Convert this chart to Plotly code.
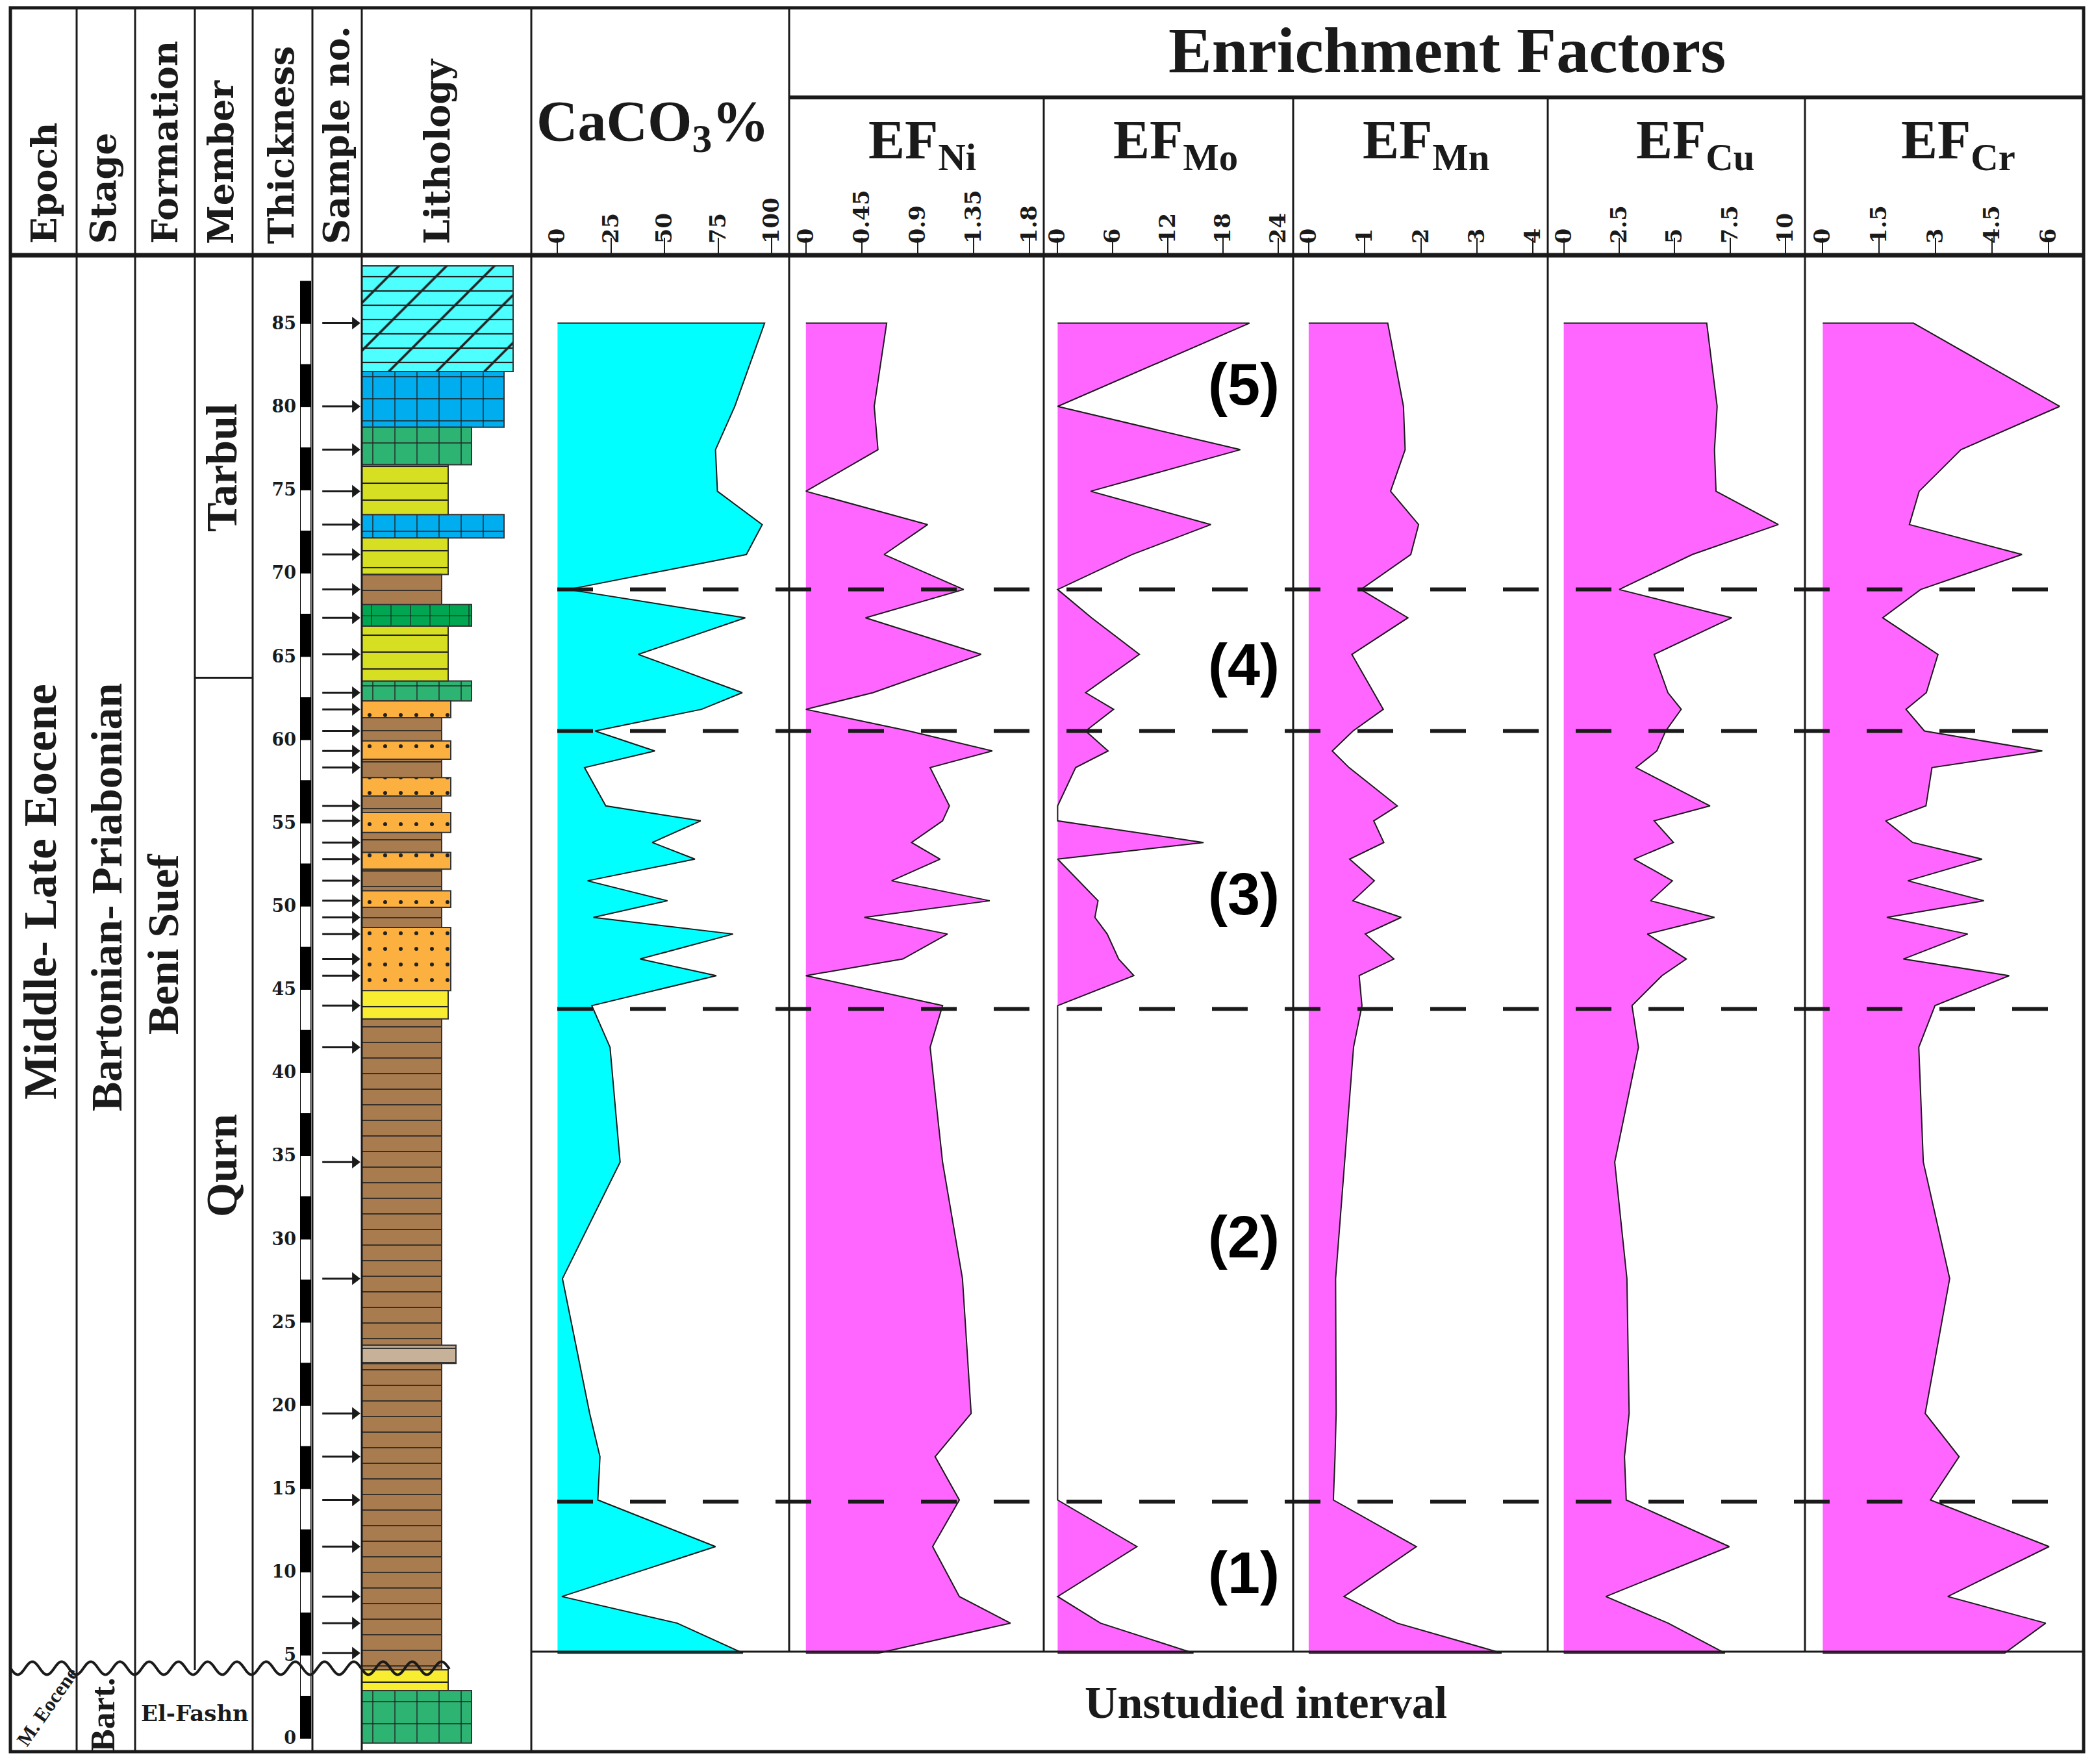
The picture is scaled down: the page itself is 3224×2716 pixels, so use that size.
import numpy as np
import plotly.graph_objects as go

# figure size (page has an 8px body margin)
W, H = 3208, 2700


def px(x):
    # reference pixel -> paper x
    return (x - 8) / W


def py(y):
    # reference pixel -> paper y
    return 1 - (y - 8) / H


# ---------------- data ----------------
# sample depths (m above base of section)
depth = [85, 80, 77.4, 74.9, 72.9, 71.1, 69, 67.3, 65.1, 62.8, 61.8, 60.5, 59.3, 58.3,
         56, 55.1, 53.8, 52.8, 51.5, 50.3, 49.3, 48.3, 46.8, 45.8, 44, 41.5, 34.6,
         27.6, 19.5, 16.9, 14.3, 11.5, 8.5, 6.9, 5.1]

caco3 = [96.6, 82.7, 73.7, 74.6, 95.5, 88.1, 5, 87.6, 37.7, 86.2, 67.2, 17.5, 45.4, 12.6,
         22.5, 66.8, 44.2, 64.1, 14.0, 51.3, 16.7, 81.9, 38.5, 74.1, 16.0, 24.5, 29.2,
         2.3, 15, 19.8, 18.8, 73.7, 2.0, 55.8, 86.5]

ef_ni = [0.65, 0.55, 0.58, 0.0, 0.98, 0.63, 1.27, 0.48, 1.41, 0.54, 0.0, 0.83, 1.50, 1.00,
         1.155, 1.10, 0.85, 1.08, 0.69, 1.48, 0.47, 1.14, 0.78, 0.0, 1.10, 1.00, 1.10,
         1.26, 1.33, 1.04, 1.235, 1.02, 1.235, 1.646, 0.584]

ef_mo = [20.9, 0, 19.9, 3.6, 16.7, 8.1, 0, 3.7, 8.9, 3.05, 6.1, 3.05, 5.5, 1.96,
         0, 0, 15.9, 0, 2.3, 4.4, 4.06, 5.4, 6.65, 8.3, 0, 0, 0,
         0, 0, 0, 0, 8.64, 0, 4.67, 14.8]

ef_mn = [1.41, 1.69, 1.72, 1.46, 1.96, 1.82, 0.93, 1.77, 0.77, 1.16, 1.33, 0.79, 0.42, 0.72,
         1.58, 1.16, 1.34, 0.73, 1.17, 0.79, 1.65, 1.01, 1.52, 0.90, 0.95, 0.80, 0.64,
         0.48, 0.49, 0.47, 0.44, 1.92, 0.63, 1.58, 3.44]

ef_cu = [6.45, 6.92, 6.80, 6.87, 9.68, 5.8, 2.5, 7.58, 4.08, 4.7, 5.3, 4.6, 4.2, 3.26,
         6.6, 4.08, 4.95, 3.17, 4.9, 3.92, 6.8, 3.77, 5.53, 4.43, 3.08, 3.37, 2.30,
         2.85, 2.95, 2.74, 2.82, 7.47, 1.90, 4.71, 7.27]

ef_cr = [2.41, 6.29, 3.67, 2.56, 2.30, 5.29, 2.60, 1.59, 3.06, 2.75, 2.21, 2.70, 5.83, 2.90,
         2.74, 1.67, 2.39, 4.23, 2.26, 4.28, 1.70, 3.85, 2.14, 4.95, 2.98, 2.55, 2.67,
         3.37, 2.72, 3.62, 2.86, 6.01, 3.32, 5.92, 4.83]

# lithology beds
litho_top = [88.45, 82.1, 78.75, 76.5, 73.5, 72.1, 69.9, 68.1, 66.8, 63.5, 62.3, 61.3, 59.9,
             58.8, 57.7, 56.6, 55.6, 54.4, 53.2, 52.2, 50.9, 49.9, 48.7, 44.9, 43.2, 23.6,
             22.5, 4.1, 2.85]
litho_base = [82.1, 78.75, 76.5, 73.5, 72.1, 69.9, 68.1, 66.8, 63.5, 62.3, 61.3, 59.9, 58.8,
              57.7, 56.6, 55.6, 54.4, 53.2, 52.2, 50.9, 49.9, 48.7, 44.9, 43.2, 23.6, 22.5,
              4.1, 2.85, -0.3]
litho_type = ['dolostone', 'limestone', 'marly_lst', 'marl', 'limestone', 'marl', 'shale',
              'dolomitic_marl', 'marl', 'marly_lst', 'sandstone', 'shale', 'sandstone', 'shale',
              'sandstone', 'shale', 'sandstone', 'shale', 'sandstone', 'shale', 'sandstone',
              'shale', 'sandstone', 'calc_sst', 'shale', 'siltstone', 'shale', 'calc_sst',
              'marly_lst']

zone_bounds = [69.0, 60.5, 43.8, 14.2]
zone_names = ['(1)', '(2)', '(3)', '(4)', '(5)']
zone_label_depth = [9.9, 30.1, 50.7, 64.45, 81.3]
member_boundary = 63.7
unconformity = 4.2

depth_ticks = list(range(0, 90, 5))

# ---------------- styles ----------------
litho_style = {
    'dolostone': dict(color='#4DFFFF', w=233, shape='/', size=52, sol=0.07, over='-'),
    'limestone': dict(color='#00AEEF', w=219, shape='+', size=34, sol=0.08),
    'marly_lst': dict(color='#2DB473', w=169, shape='+', size=34, sol=0.08),
    'dolomitic_marl': dict(color='#00A651', w=169, shape='+', size=30, sol=0.08),
    'marl': dict(color='#D7DF23', w=133, shape='-', size=26, sol=0.08),
    'shale': dict(color='#A97C50', w=123, shape='-', size=24, sol=0.07),
    'sandstone': dict(color='#FBB040', w=137, shape='.', size=24, sol=0.05),
    'calc_sst': dict(color='#F9ED32', w=133, shape='-', size=26, sol=0.08),
    'siltstone': dict(color='#C7B299', w=145, shape='-', size=22, sol=0.08),
}

INK = '#1a1a1a'
CYAN = '#00FFFF'
PINK = '#FF66FF'

fig = go.Figure()

# thickness scale bar (2.5 m segments)
seg_base = np.arange(0, 87.5, 2.5)
fig.add_trace(go.Bar(
    orientation='h', y=seg_base + 1.25, x=[1] * len(seg_base), base=0, width=2.5,
    marker=dict(color=['black' if i % 2 == 0 else 'white' for i in range(len(seg_base))],
                line=dict(color='black', width=2)),
    xaxis='x', yaxis='y', showlegend=False, hoverinfo='skip'))

# sample arrows
sx, sy = [], []
for d in depth:
    sx += [0.2, 0.86, None]
    sy += [d, d, None]
fig.add_trace(go.Scatter(x=sx, y=sy, mode='lines', line=dict(color=INK, width=3),
                         xaxis='x2', yaxis='y', showlegend=False, hoverinfo='skip'))
fig.add_trace(go.Scatter(x=[0.86] * len(depth), y=depth, mode='markers',
                         marker=dict(symbol='triangle-right', size=17, color=INK),
                         xaxis='x2', yaxis='y', showlegend=False, hoverinfo='skip'))

# lithology column
for lt, st in litho_style.items():
    idx = [i for i, t in enumerate(litho_type) if t == lt]
    if not idx:
        continue
    mids = [(litho_top[i] + litho_base[i]) / 2 for i in idx]
    thick = [litho_top[i] - litho_base[i] for i in idx]
    fig.add_trace(go.Bar(
        orientation='h', y=mids, x=[st['w']] * len(idx), base=0, width=thick,
        marker=dict(color=st['color'], line=dict(color='#333', width=2),
                    pattern=dict(shape=st['shape'], fgcolor='#222', bgcolor=st['color'],
                                 size=st['size'], solidity=st['sol'], fillmode='replace')),
        xaxis='x3', yaxis='y', showlegend=False, hoverinfo='skip'))
    if 'over' in st:
        # second pattern layer (bedding lines)
        fig.add_trace(go.Bar(
            orientation='h', y=mids, x=[st['w']] * len(idx), base=0, width=thick,
            marker=dict(color='rgba(0,0,0,0)', line=dict(color='#333', width=2),
                        pattern=dict(shape=st['over'], fgcolor='#222',
                                     bgcolor='rgba(0,0,0,0)', size=22, solidity=0.1,
                                     fillmode='replace')),
            xaxis='x3', yaxis='y', showlegend=False, hoverinfo='skip'))

# geochemical panels
panels = [
    ('x4', caco3, CYAN), ('x5', ef_ni, PINK), ('x6', ef_mo, PINK),
    ('x7', ef_mn, PINK), ('x8', ef_cu, PINK), ('x9', ef_cr, PINK),
]
for ax, vals, col in panels:
    fig.add_trace(go.Scatter(
        x=[0] + list(vals) + [0], y=[depth[0]] + depth + [depth[-1]],
        mode='lines', fill='toself', fillcolor=col,
        line=dict(color=INK, width=2), xaxis=ax, yaxis='y',
        showlegend=False, hoverinfo='skip'))

# ---------------- axes ----------------
tick_font = dict(family='DejaVu Serif', size=34, color=INK, weight='bold')


def data_axis(left, right, zero_px, unit_px, ticks, labels):
    lo = (left - zero_px) / unit_px
    hi = (right - zero_px) / unit_px
    return dict(domain=[px(left), px(right)], range=[lo, hi], anchor='y', side='top',
                tickmode='array', tickvals=ticks, ticktext=labels, ticks='outside',
                ticklen=26, tickwidth=2, tickcolor=INK, tickangle=-90, tickfont=tick_font,
                ticklabelstandoff=-16,
                showgrid=False, zeroline=False, showline=False, fixedrange=True)


hidden = dict(visible=False, showgrid=False, zeroline=False, anchor='y', fixedrange=True)

fig.update_layout(
    width=W, height=H, autosize=False,
    margin=dict(l=0, r=0, t=0, b=0),
    paper_bgcolor='white', plot_bgcolor='white',
    barmode='overlay', hovermode=False, showlegend=False,
    xaxis=dict(hidden, domain=[px(462), px(479)], range=[0, 1]),
    xaxis2=dict(hidden, domain=[px(481), px(557)], range=[0, 1]),
    xaxis3=dict(hidden, domain=[px(557), px(818)], range=[0, 261]),
    xaxis4=data_axis(818, 1215, 858.4, 3.30, [0, 25, 50, 75, 100],
                     ['0', '25', '50', '75', '100']),
    xaxis5=data_axis(1215, 1607, 1240.8, 191.3, [0, 0.45, 0.9, 1.35, 1.8],
                     ['0', '0.45', '0.9', '1.35', '1.8']),
    xaxis6=data_axis(1607, 1991, 1628.4, 14.13, [0, 6, 12, 18, 24],
                     ['0', '6', '12', '18', '24']),
    xaxis7=data_axis(1991, 2383, 2014.9, 86.35, [0, 1, 2, 3, 4],
                     ['0', '1', '2', '3', '4']),
    xaxis8=data_axis(2383, 2779, 2407.6, 34.13, [0, 2.5, 5, 7.5, 10],
                     ['0', '2.5', '5', '7.5', '10']),
    xaxis9=data_axis(2779, 3208, 2806.4, 57.98, [0, 1.5, 3, 4.5, 6],
                     ['0', '1.5', '3', '4.5', '6']),
    yaxis=dict(domain=[py(2697), py(393)], range=[-0.82, 89.08], anchor='free',
               position=px(458), tickmode='array', tickvals=depth_ticks, ticks='',
               showgrid=False, zeroline=False, showline=False, fixedrange=True,
               tickfont=dict(family='DejaVu Serif', size=27, color=INK, weight='bold'),
               ticklabelstandoff=2),
)

# ---------------- frame and rules ----------------
shapes = []


def vline(x, y0, y1, w=3):
    shapes.append(dict(type='line', xref='paper', yref='paper', x0=px(x), x1=px(x),
                       y0=py(y0), y1=py(y1), line=dict(color=INK, width=w)))


def hline(y, x0, x1, w=3):
    shapes.append(dict(type='line', xref='paper', yref='paper', x0=px(x0), x1=px(x1),
                       y0=py(y), y1=py(y), line=dict(color=INK, width=w)))


for x in [118, 208, 389, 481, 557, 818]:
    vline(x, 12, 2697)
vline(300, 12, 2571)
vline(1215, 12, 2543)
for x in [1607, 1991, 2383, 2779]:
    vline(x, 150, 2543)
hline(393, 16, 3208, 7)
hline(150, 1215, 3208, 6)
hline(2543, 818, 3208, 3)
shapes.append(dict(type='rect', xref='paper', yref='paper', x0=px(16), x1=px(3208),
                   y0=py(2697), y1=py(12), line=dict(color=INK, width=5)))

# member boundary (Tarbul / Qurn)
shapes.append(dict(type='line', xref='paper', yref='y', x0=px(300), x1=px(389),
                   y0=member_boundary, y1=member_boundary, line=dict(color=INK, width=3)))

# zone boundaries
for z in zone_bounds:
    shapes.append(dict(type='line', xref='paper', yref='y', x0=px(858), x1=px(3208),
                       y0=z, y1=z, line=dict(color=INK, width=6, dash='55px,57px')))

# wavy unconformity
wx = np.linspace(16, 692, 400)
uy = 2676.1 - unconformity * 25.63
wy = uy + 10 * np.sin(2 * np.pi * (wx - 16) / 45)
path = 'M ' + ' L '.join(f'{px(a):.5f},{py(b):.5f}' for a, b in zip(wx, wy))
shapes.append(dict(type='path', xref='paper', yref='paper', path=path,
                   line=dict(color=INK, width=4)))

fig.update_layout(shapes=shapes)

# ---------------- text ----------------
ann = []
hdr_font = dict(family='DejaVu Serif', size=54, color=INK, weight='bold')
for txt, cx in [('Epoch', 67), ('Stage', 158), ('Formation', 253), ('Member', 340),
                ('Thickness', 432), ('Sample no.', 518), ('Lithology', 673)]:
    ann.append(dict(text=txt, x=px(cx), y=py(378), xref='paper', yref='paper',
                    xanchor='center', yanchor='bottom', textangle=-90,
                    showarrow=False, font=hdr_font))

times = 'Liberation Serif'
ann.append(dict(text='CaCO<sub>3</sub>%', x=px(1005), y=py(192), xref='paper', yref='paper',
                xanchor='center', yanchor='middle', showarrow=False,
                font=dict(family=times, size=88, color=INK, weight='bold')))
ann.append(dict(text='Enrichment Factors', x=px(2228), y=py(78), xref='paper', yref='paper',
                xanchor='center', yanchor='middle', showarrow=False,
                font=dict(family=times, size=100, color=INK, weight='bold')))
for sub, cx in [('Ni', 1420), ('Mo', 1810), ('Mn', 2196), ('Cu', 2610), ('Cr', 3015)]:
    ann.append(dict(text=f'EF<sub>{sub}</sub>', x=px(cx), y=py(222), xref='paper',
                    yref='paper', xanchor='center', yanchor='middle', showarrow=False,
                    font=dict(family=times, size=84, color=INK, weight='bold')))

for txt, cx, cy, sz in [('Middle- Late Eocene', 62, 1373, 72),
                        ('Bartonian- Priabonian', 164, 1382, 68),
                        ('Beni Suef', 251, 1454, 68),
                        ('Tarbul', 341, 720, 68),
                        ('Qurn', 341, 1795, 68)]:
    ann.append(dict(text=txt, x=px(cx), y=py(cy), xref='paper', yref='paper',
                    xanchor='center', yanchor='middle', textangle=-90, showarrow=False,
                    font=dict(family=times, size=sz, color=INK, weight='bold')))

ann.append(dict(text='M. Eocene', x=px(72), y=py(2628), xref='paper', yref='paper',
                xanchor='center', yanchor='middle', textangle=-55, showarrow=False,
                font=dict(family=times, size=31, color=INK, weight='bold')))
ann.append(dict(text='Bart.', x=px(158), y=py(2640), xref='paper', yref='paper',
                xanchor='center', yanchor='middle', textangle=-90, showarrow=False,
                font=dict(family=times, size=52, color=INK, weight='bold')))
ann.append(dict(text='El-Fashn', x=px(300), y=py(2638), xref='paper', yref='paper',
                xanchor='center', yanchor='middle', showarrow=False,
                font=dict(family='DejaVu Serif', size=34, color=INK, weight='bold')))
ann.append(dict(text='Unstudied interval', x=px(1949), y=py(2621), xref='paper',
                yref='paper', xanchor='center', yanchor='middle', showarrow=False,
                font=dict(family=times, size=70, color=INK, weight='bold')))

for name, zd in zip(zone_names, zone_label_depth):
    ann.append(dict(text=name, x=px(1915), y=zd, xref='paper', yref='y',
                    xanchor='center', yanchor='middle', showarrow=False,
                    font=dict(family='Liberation Sans', size=90, color='black',
                              weight='bold')))

fig.update_layout(annotations=ann)

fig.write_html("out.html")
